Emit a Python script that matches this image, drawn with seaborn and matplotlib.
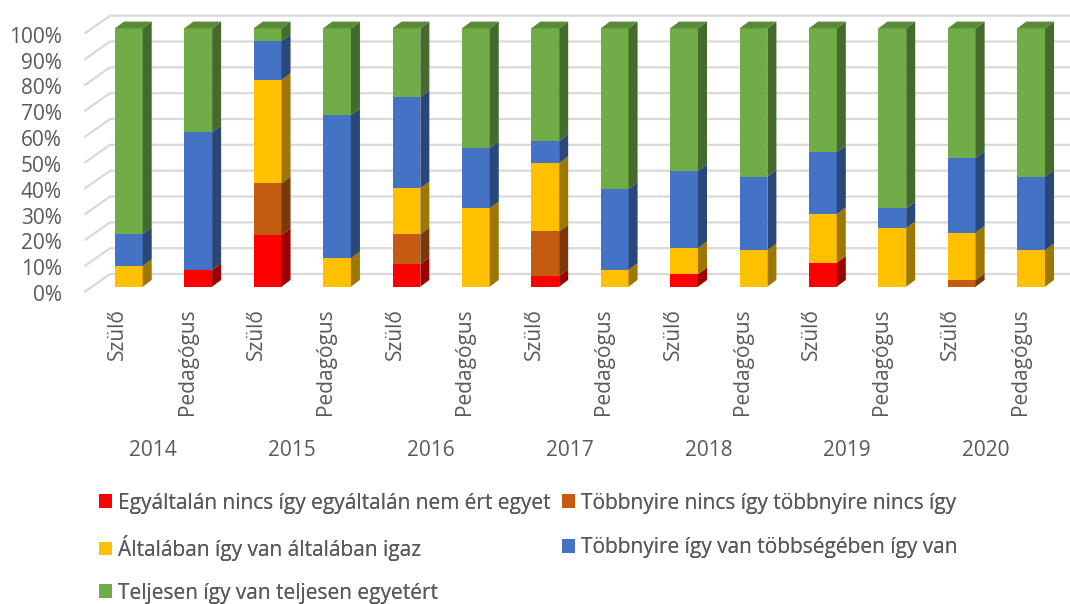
"""Egymásra halmozott 100%-os oszlopdiagram (Excel-stílusú 3D hatással)."""

import matplotlib

matplotlib.use("Agg")
import matplotlib.pyplot as plt
import matplotlib.transforms as mtransforms
import numpy as np
import pandas as pd
import seaborn as sns
from matplotlib.patches import Patch

# Adatok: évenként Szülő és Pedagógus válaszok megoszlása (%)
years = ["2014", "2015", "2016", "2017", "2018", "2019", "2020"]
groups = ["Szülő", "Pedagógus"]

egyaltalan = [0, 6.5, 20, 0, 8.7, 0, 4.1, 0, 4.8, 0, 9.3, 0, 0, 0]
tobbnyire_nincs = [0, 0, 20, 0, 11.6, 0, 17.3, 0, 0, 0, 0, 0, 2.6, 0]
altalaban = [8, 0, 40, 11, 17.8, 30.3, 26.4, 6.5, 10.1, 14.1, 18.8, 22.7, 18.3, 14.1]
tobbnyire_igen = [12.4, 53.3, 15, 55.4, 35.3, 23.4, 8.5, 31.3, 29.9, 28.5, 24, 7.6, 28.9, 28.5]
teljesen = [79.6, 40.2, 5, 33.6, 26.6, 46.3, 43.7, 62.2, 55.2, 57.4, 47.9, 69.7, 50.2, 57.4]

series_names = [
    "Egyáltalán nincs így egyáltalán nem ért egyet",
    "Többnyire nincs így többnyire nincs így",
    "Általában így van általában igaz",
    "Többnyire így van többségében így van",
    "Teljesen így van teljesen egyetért",
]
series_values = [egyaltalan, tobbnyire_nincs, altalaban, tobbnyire_igen, teljesen]
colors = ["#FF0000", "#C55A11", "#FFC000", "#4472C4", "#70AD47"]

TEXT = "#595959"
GRID = "#D9D9D9"
BAR_W = 0.4
DX, DY = 0.13, 2.6  # oldallap mélysége (x egység, %)

# Hosszú tábla az összesített (kumulált) magasságokkal
bar_ids = [f"{y} {g}" for y in years for g in groups]
values = np.array(series_values, dtype=float)
tops = np.cumsum(values, axis=0)
bottoms = tops - values
frame = pd.DataFrame(
    {
        "bar": np.tile(bar_ids, len(series_names)),
        "series": np.repeat(series_names, len(bar_ids)),
        "top": tops.ravel(),
    }
)

sns.set_theme(style="white")
plt.rcParams["font.family"] = ["Open Sans", "DejaVu Sans"]

fig = plt.figure(figsize=(10.7, 6.04), dpi=100)
ax = fig.add_axes([66 / 1070, (604 - 300) / 604, (1070 - 66) / 1070, 300 / 604])

# Elülső lapok: felülről lefelé rajzolva a kumulált magasságokat
for name, color in reversed(list(zip(series_names, colors))):
    sns.barplot(
        data=frame[frame["series"] == name],
        x="bar",
        y="top",
        order=bar_ids,
        color=color,
        saturation=1,
        width=BAR_W,
        errorbar=None,
        linewidth=0,
        ax=ax,
        zorder=3,
    )


def shade(hex_color, factor):
    rgb = np.array(matplotlib.colors.to_rgb(hex_color))
    return tuple(rgb * factor)


# Oldallapok és tetőlap a térhatáshoz
xs = np.arange(len(bar_ids))
for s, color in enumerate(colors):
    for i, x in enumerate(xs):
        b, t = bottoms[s, i], tops[s, i]
        if t - b <= 0:
            continue
        xr = x + BAR_W / 2
        ax.fill(
            [xr, xr + DX, xr + DX, xr],
            [b, b + DY, t + DY, t],
            color=shade(color, 0.62),
            lw=0,
            zorder=3,
        )
for i, x in enumerate(xs):
    top_series = max(s for s in range(len(colors)) if values[s, i] > 0)
    xl, xr = x - BAR_W / 2, x + BAR_W / 2
    t = tops[top_series, i]
    ax.fill(
        [xl, xl + DX, xr + DX, xr],
        [t, t + DY, t + DY, t],
        color=shade(colors[top_series], 0.8),
        lw=0,
        zorder=3,
    )

# Hátsó fal rácsvonalai, bal oldali ferde csonkokkal
ax.set_xlim(-0.905, 13.56)
ax.set_ylim(-5.15, 110.95)
ticks = np.arange(0, 101, 10)
for t in ticks:
    ax.plot([-0.63, -0.27, 13.56], [t - 1.9, t + 4.9, t + 4.9], color=GRID, lw=1.6, zorder=1)

ax.set_yticks(ticks - 2.5, [f"{t}%" for t in ticks])
ax.set_xticks(xs - 0.16, [g for _ in years for g in groups], rotation=90, va="top")
ax.tick_params(axis="y", length=0, pad=3, labelsize=15, labelcolor=TEXT)
ax.tick_params(axis="x", length=0, pad=6, labelsize=15, labelcolor=TEXT)
ax.set_xlabel("")
ax.set_ylabel("")
for spine in ax.spines.values():
    spine.set_visible(False)

trans = mtransforms.blended_transform_factory(ax.transData, ax.transAxes)
for k, year in enumerate(years):
    ax.text(2 * k + 0.5 - 0.15, -0.5, year, transform=trans, ha="center", va="center",
            fontsize=15, color=TEXT)

# Jelmagyarázat: soronként két bejegyzés, rögzített oszlopokkal
legend_cols = [99 / 1070, 562 / 1070]
legend_rows = [1 - 503 / 604, 1 - 548 / 604, 1 - 593 / 604]
for i, (name, color) in enumerate(zip(series_names, colors)):
    leg = fig.legend(
        [Patch(facecolor=color, edgecolor="none")],
        [name],
        loc="center left",
        bbox_to_anchor=(legend_cols[i % 2], legend_rows[i // 2]),
        frameon=False,
        fontsize=15,
        labelcolor=TEXT,
        handlelength=0.62,
        handleheight=0.62,
        handletextpad=0.27,
        borderpad=0,
        borderaxespad=0,
    )
    fig.add_artist(leg)

fig.savefig("out.png", dpi=100)
